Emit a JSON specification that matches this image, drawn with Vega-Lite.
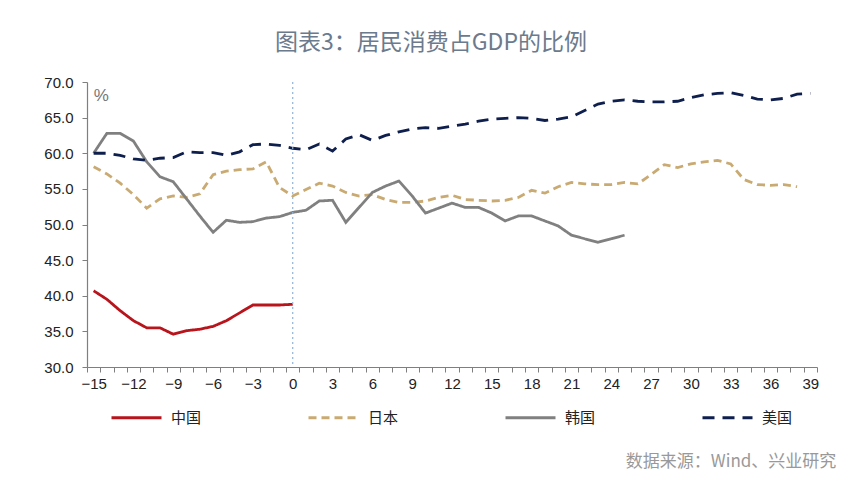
{
  "$schema": "https://vega.github.io/schema/vega-lite/v6.json",
  "width": 730,
  "height": 285,
  "autosize": {"type": "none"},
  "padding": {"left": 87, "top": 82, "right": 49, "bottom": 132},
  "background": "white",
  "title": {
    "text": "图表3：居民消费占GDP的比例",
    "font": "Noto Sans CJK SC",
    "fontSize": 23,
    "fontWeight": "normal",
    "color": "#6b7a8c",
    "anchor": "middle",
    "dx": -21,
    "offset": 20
  },
  "datasets": {
    "series": [
      {"country": "中国", "t": -15, "v": 40.7}, {"country": "中国", "t": -14, "v": 39.5},
      {"country": "中国", "t": -13, "v": 37.9}, {"country": "中国", "t": -12, "v": 36.5},
      {"country": "中国", "t": -11, "v": 35.5}, {"country": "中国", "t": -10, "v": 35.5},
      {"country": "中国", "t": -9, "v": 34.6}, {"country": "中国", "t": -8, "v": 35.1},
      {"country": "中国", "t": -7, "v": 35.3}, {"country": "中国", "t": -6, "v": 35.7},
      {"country": "中国", "t": -5, "v": 36.5}, {"country": "中国", "t": -4, "v": 37.6},
      {"country": "中国", "t": -3, "v": 38.7}, {"country": "中国", "t": -2, "v": 38.7},
      {"country": "中国", "t": -1, "v": 38.7}, {"country": "中国", "t": 0, "v": 38.8},

      {"country": "日本", "t": -15, "v": 58.1}, {"country": "日本", "t": -14, "v": 57.1},
      {"country": "日本", "t": -13, "v": 55.8}, {"country": "日本", "t": -12, "v": 54.2},
      {"country": "日本", "t": -11, "v": 52.3}, {"country": "日本", "t": -10, "v": 53.6},
      {"country": "日本", "t": -9, "v": 54.0}, {"country": "日本", "t": -8, "v": 53.8},
      {"country": "日本", "t": -7, "v": 54.3}, {"country": "日本", "t": -6, "v": 57.0},
      {"country": "日本", "t": -5, "v": 57.5}, {"country": "日本", "t": -4, "v": 57.7},
      {"country": "日本", "t": -3, "v": 57.8}, {"country": "日本", "t": -2, "v": 58.8},
      {"country": "日本", "t": -1, "v": 55.2}, {"country": "日本", "t": 0, "v": 54.0},
      {"country": "日本", "t": 1, "v": 54.9}, {"country": "日本", "t": 2, "v": 55.8},
      {"country": "日本", "t": 3, "v": 55.4}, {"country": "日本", "t": 4, "v": 54.5},
      {"country": "日本", "t": 5, "v": 54.0}, {"country": "日本", "t": 6, "v": 54.2},
      {"country": "日本", "t": 7, "v": 53.5}, {"country": "日本", "t": 8, "v": 53.1},
      {"country": "日本", "t": 9, "v": 53.1}, {"country": "日本", "t": 10, "v": 53.3},
      {"country": "日本", "t": 11, "v": 53.8}, {"country": "日本", "t": 12, "v": 54.1},
      {"country": "日本", "t": 13, "v": 53.5}, {"country": "日本", "t": 14, "v": 53.4},
      {"country": "日本", "t": 15, "v": 53.3}, {"country": "日本", "t": 16, "v": 53.4},
      {"country": "日本", "t": 17, "v": 53.8}, {"country": "日本", "t": 18, "v": 54.8},
      {"country": "日本", "t": 19, "v": 54.4}, {"country": "日本", "t": 20, "v": 55.3},
      {"country": "日本", "t": 21, "v": 55.9}, {"country": "日本", "t": 22, "v": 55.7},
      {"country": "日本", "t": 23, "v": 55.6}, {"country": "日本", "t": 24, "v": 55.6},
      {"country": "日本", "t": 25, "v": 55.9}, {"country": "日本", "t": 26, "v": 55.7},
      {"country": "日本", "t": 27, "v": 57.0}, {"country": "日本", "t": 28, "v": 58.4},
      {"country": "日本", "t": 29, "v": 58.0}, {"country": "日本", "t": 30, "v": 58.5},
      {"country": "日本", "t": 31, "v": 58.8}, {"country": "日本", "t": 32, "v": 59.0},
      {"country": "日本", "t": 33, "v": 58.5}, {"country": "日本", "t": 34, "v": 56.3},
      {"country": "日本", "t": 35, "v": 55.6}, {"country": "日本", "t": 36, "v": 55.5},
      {"country": "日本", "t": 37, "v": 55.6}, {"country": "日本", "t": 38, "v": 55.3},

      {"country": "韩国", "t": -15, "v": 60.0}, {"country": "韩国", "t": -14, "v": 62.8},
      {"country": "韩国", "t": -13, "v": 62.8}, {"country": "韩国", "t": -12, "v": 61.7},
      {"country": "韩国", "t": -11, "v": 58.8}, {"country": "韩国", "t": -10, "v": 56.7},
      {"country": "韩国", "t": -9, "v": 56.0}, {"country": "韩国", "t": -8, "v": 53.6},
      {"country": "韩国", "t": -7, "v": 51.2}, {"country": "韩国", "t": -6, "v": 48.9},
      {"country": "韩国", "t": -5, "v": 50.6}, {"country": "韩国", "t": -4, "v": 50.3},
      {"country": "韩国", "t": -3, "v": 50.4}, {"country": "韩国", "t": -2, "v": 50.9},
      {"country": "韩国", "t": -1, "v": 51.1}, {"country": "韩国", "t": 0, "v": 51.7},
      {"country": "韩国", "t": 1, "v": 52.0}, {"country": "韩国", "t": 2, "v": 53.3},
      {"country": "韩国", "t": 3, "v": 53.4}, {"country": "韩国", "t": 4, "v": 50.3},
      {"country": "韩国", "t": 5, "v": 52.4}, {"country": "韩国", "t": 6, "v": 54.5},
      {"country": "韩国", "t": 7, "v": 55.4}, {"country": "韩国", "t": 8, "v": 56.1},
      {"country": "韩国", "t": 9, "v": 54.0}, {"country": "韩国", "t": 10, "v": 51.6},
      {"country": "韩国", "t": 11, "v": 52.3}, {"country": "韩国", "t": 12, "v": 53.0},
      {"country": "韩国", "t": 13, "v": 52.4}, {"country": "韩国", "t": 14, "v": 52.4},
      {"country": "韩国", "t": 15, "v": 51.6}, {"country": "韩国", "t": 16, "v": 50.5},
      {"country": "韩国", "t": 17, "v": 51.2}, {"country": "韩国", "t": 18, "v": 51.2},
      {"country": "韩国", "t": 19, "v": 50.5}, {"country": "韩国", "t": 20, "v": 49.8},
      {"country": "韩国", "t": 21, "v": 48.5}, {"country": "韩国", "t": 22, "v": 48.0},
      {"country": "韩国", "t": 23, "v": 47.5}, {"country": "韩国", "t": 24, "v": 48.0},
      {"country": "韩国", "t": 25, "v": 48.5},

      {"country": "美国", "t": -15, "v": 60.0}, {"country": "美国", "t": -14, "v": 60.0},
      {"country": "美国", "t": -13, "v": 59.7}, {"country": "美国", "t": -12, "v": 59.2},
      {"country": "美国", "t": -11, "v": 59.0}, {"country": "美国", "t": -10, "v": 59.3},
      {"country": "美国", "t": -9, "v": 59.4}, {"country": "美国", "t": -8, "v": 60.2},
      {"country": "美国", "t": -7, "v": 60.1}, {"country": "美国", "t": -6, "v": 60.1},
      {"country": "美国", "t": -5, "v": 59.7}, {"country": "美国", "t": -4, "v": 60.2},
      {"country": "美国", "t": -3, "v": 61.2}, {"country": "美国", "t": -2, "v": 61.3},
      {"country": "美国", "t": -1, "v": 61.1}, {"country": "美国", "t": 0, "v": 60.7},
      {"country": "美国", "t": 1, "v": 60.5}, {"country": "美国", "t": 2, "v": 61.3},
      {"country": "美国", "t": 3, "v": 60.3}, {"country": "美国", "t": 4, "v": 62.0},
      {"country": "美国", "t": 5, "v": 62.6}, {"country": "美国", "t": 6, "v": 61.8},
      {"country": "美国", "t": 7, "v": 62.5}, {"country": "美国", "t": 8, "v": 63.0},
      {"country": "美国", "t": 9, "v": 63.4}, {"country": "美国", "t": 10, "v": 63.6},
      {"country": "美国", "t": 11, "v": 63.5}, {"country": "美国", "t": 12, "v": 63.8},
      {"country": "美国", "t": 13, "v": 64.1}, {"country": "美国", "t": 14, "v": 64.5},
      {"country": "美国", "t": 15, "v": 64.8}, {"country": "美国", "t": 16, "v": 64.9},
      {"country": "美国", "t": 17, "v": 65.0}, {"country": "美国", "t": 18, "v": 64.9},
      {"country": "美国", "t": 19, "v": 64.6}, {"country": "美国", "t": 20, "v": 64.8},
      {"country": "美国", "t": 21, "v": 65.1}, {"country": "美国", "t": 22, "v": 66.0},
      {"country": "美国", "t": 23, "v": 66.9}, {"country": "美国", "t": 24, "v": 67.3},
      {"country": "美国", "t": 25, "v": 67.5}, {"country": "美国", "t": 26, "v": 67.3},
      {"country": "美国", "t": 27, "v": 67.2}, {"country": "美国", "t": 28, "v": 67.2},
      {"country": "美国", "t": 29, "v": 67.3}, {"country": "美国", "t": 30, "v": 67.8},
      {"country": "美国", "t": 31, "v": 68.2}, {"country": "美国", "t": 32, "v": 68.4},
      {"country": "美国", "t": 33, "v": 68.5}, {"country": "美国", "t": 34, "v": 68.1},
      {"country": "美国", "t": 35, "v": 67.6}, {"country": "美国", "t": 36, "v": 67.5},
      {"country": "美国", "t": 37, "v": 67.7}, {"country": "美国", "t": 38, "v": 68.3},
      {"country": "美国", "t": 39, "v": 68.4}
    ],
    "notes": [
      {"label": "%"}
    ],
    "source": [
      {"label": "数据来源：Wind、兴业研究"}
    ]
  },
  "layer": [
    {
      "data": {"name": "series"},
      "mark": {"type": "line", "strokeWidth": 2.8, "interpolate": "linear"},
      "encoding": {
        "x": {
          "field": "t",
          "type": "ordinal",
          "sort": "ascending",
          "scale": {"type": "band", "paddingInner": 0, "paddingOuter": 0},
          "axis": {
            "title": null,
            "labelAngle": 0,
            "tickBand": "extent",
            "labelExpr": "datum.value % 3 == 0 ? replace(datum.label, '-', '−') : ''",
            "labelFont": "Liberation Sans",
            "labelFontSize": 15,
            "labelColor": "#222222",
            "labelPadding": 4,
            "tickSize": 5,
            "tickColor": "#7f7f7f",
            "domainColor": "#7f7f7f",
            "domainWidth": 1.2,
            "grid": false
          }
        },
        "y": {
          "field": "v",
          "type": "quantitative",
          "scale": {"domain": [30, 70], "nice": false, "zero": false},
          "axis": {
            "title": null,
            "values": [30, 35, 40, 45, 50, 55, 60, 65, 70],
            "format": ".1f",
            "labelFont": "Liberation Sans",
            "labelFontSize": 15,
            "labelColor": "#222222",
            "labelPadding": 9,
            "tickSize": 5,
            "tickColor": "#7f7f7f",
            "domainColor": "#7f7f7f",
            "domainWidth": 1.2,
            "grid": false
          }
        },
        "color": {
          "field": "country",
          "type": "nominal",
          "scale": {
            "domain": ["中国", "日本", "韩国", "美国"],
            "range": ["#b8141c", "#c9aa72", "#808080", "#0f1f4d"]
          },
          "legend": {
            "title": null,
            "orient": "none",
            "legendX": 23,
            "legendY": 309,
            "direction": "horizontal",
            "columns": 4,
            "columnPadding": 100,
            "padding": 0,
            "symbolType": "stroke",
            "symbolSize": 2500,
            "symbolStrokeWidth": 3,
            "labelFont": "Noto Sans CJK SC",
            "labelFontSize": 15,
            "labelColor": "#222222",
            "labelOffset": 8
          }
        },
        "strokeDash": {
          "field": "country",
          "type": "nominal",
          "scale": {
            "domain": ["中国", "日本", "韩国", "美国"],
            "range": [[1, 0], [8, 5], [1, 0], [12, 8]]
          }
        }
      }
    },
    {
      "data": {"values": [{}]},
      "mark": {"type": "rule", "color": "#8fb3d9", "strokeWidth": 1.2, "strokeDash": [2, 3]},
      "encoding": {"x": {"datum": 0, "type": "ordinal"}}
    },
    {
      "data": {"name": "notes"},
      "mark": {"type": "text", "align": "left", "baseline": "middle", "font": "Liberation Sans", "fontSize": 17, "color": "#777777"},
      "encoding": {
        "x": {"datum": -15, "type": "ordinal"},
        "y": {
          "datum": 68,
          "type": "quantitative",
          "axis": {
            "title": null,
            "values": [30, 35, 40, 45, 50, 55, 60, 65, 70],
            "format": ".1f",
            "labelFont": "Liberation Sans",
            "labelFontSize": 15,
            "labelColor": "#222222",
            "labelPadding": 9,
            "tickSize": 5,
            "tickColor": "#7f7f7f",
            "domainColor": "#7f7f7f",
            "domainWidth": 1.2,
            "grid": false
          }
        },
        "text": {"field": "label"}
      }
    },
    {
      "data": {"name": "source"},
      "mark": {"type": "text", "align": "right", "baseline": "middle", "dx": 26, "font": "Noto Sans CJK SC", "fontSize": 17, "color": "#999999"},
      "encoding": {
        "x": {"datum": 39, "type": "ordinal"},
        "y": {
          "datum": 16.6,
          "type": "quantitative",
          "axis": {
            "title": null,
            "values": [30, 35, 40, 45, 50, 55, 60, 65, 70],
            "format": ".1f",
            "labelFont": "Liberation Sans",
            "labelFontSize": 15,
            "labelColor": "#222222",
            "labelPadding": 9,
            "tickSize": 5,
            "tickColor": "#7f7f7f",
            "domainColor": "#7f7f7f",
            "domainWidth": 1.2,
            "grid": false
          }
        },
        "text": {"field": "label"}
      }
    }
  ],
  "config": {
    "view": {"stroke": null},
    "font": "Noto Sans CJK SC",
    "axis": {"labelOverlap": false}
  }
}
